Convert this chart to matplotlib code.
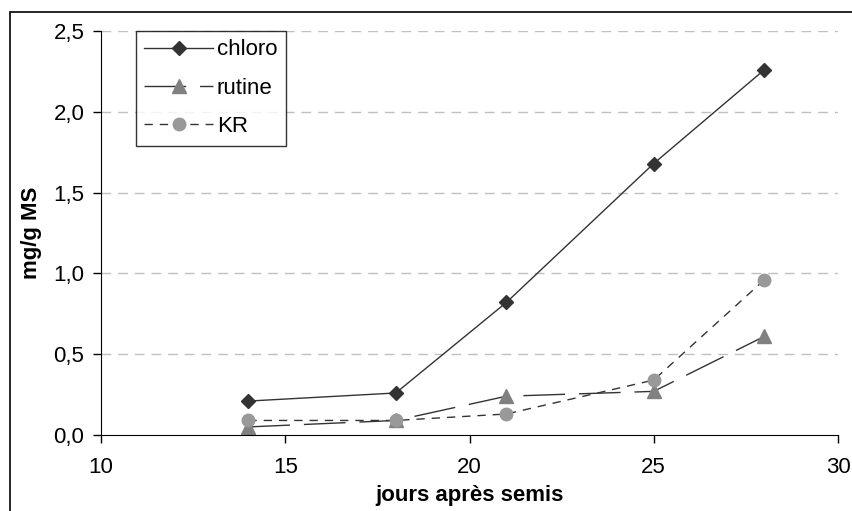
import matplotlib
matplotlib.use('Agg')
import matplotlib.pyplot as plt
from matplotlib.patches import Rectangle

plt.rcParams['font.family'] = ['Liberation Sans', 'DejaVu Sans']

# data
jours  = [14, 18, 21, 25, 28]
chloro = [0.21, 0.26, 0.82, 1.68, 2.26]
rutine = [0.05, 0.09, 0.24, 0.27, 0.61]
kr     = [0.09, 0.09, 0.13, 0.34, 0.96]

xticks = [10, 15, 20, 25, 30]
yticks = [0.0, 0.5, 1.0, 1.5, 2.0, 2.5]
yticklabels = ['0,0', '0,5', '1,0', '1,5', '2,0', '2,5']

fig = plt.figure(figsize=(8.52, 5.11), dpi=100)
ax = fig.add_axes([101/852, 1-435/511, (838-101)/852, (435-31)/511])

# frame round the whole chart (right and bottom edges fall off the picture)
fig.patches.append(Rectangle((10/852, -0.1), 1.2, 1-12/511+0.1,
                             transform=fig.transFigure, fill=False,
                             edgecolor='black', linewidth=1.2))

ax.plot(jours, chloro, '-', color='#333333', linewidth=1,
        marker='D', markersize=7, markerfacecolor='#333333',
        markeredgecolor='#333333', label='chloro')
ax.plot(jours, rutine, color='#333333', linewidth=1, dashes=(30, 10),
        marker='^', markersize=10, markerfacecolor='#808080',
        markeredgecolor='#808080', label='rutine')
ax.plot(jours, kr, color='#333333', linewidth=1, dashes=(6, 5),
        marker='o', markersize=9, markerfacecolor='#999999',
        markeredgecolor='#999999', label='KR')

ax.set_xlim(10, 30)
ax.set_ylim(0, 2.5)
ax.set_xticks(xticks)
ax.set_yticks(yticks)
ax.set_yticklabels(yticklabels)
ax.tick_params(direction='out', length=6, labelsize=16, width=1)
ax.tick_params(axis='x', pad=10)
ax.tick_params(axis='y', pad=6)

for y in yticks[1:]:
    ax.axhline(y, color='#c0c0c0', linewidth=1, dashes=(7, 5), zorder=0)

ax.spines['top'].set_visible(False)
ax.spines['right'].set_visible(False)

ax.set_xlabel('jours après semis', fontsize=16, fontweight='bold', labelpad=5)
ax.set_ylabel('mg/g MS', fontsize=16, fontweight='bold', labelpad=8)

leg = ax.legend(loc='upper left', bbox_to_anchor=(35/737, 1.0), fontsize=16,
                handlelength=3.1, frameon=True, fancybox=False,
                edgecolor='black', borderpad=0.38, labelspacing=0.78,
                handletextpad=0.15, borderaxespad=0)
leg.get_frame().set_linewidth(1)

fig.savefig('out.png', dpi=100)
